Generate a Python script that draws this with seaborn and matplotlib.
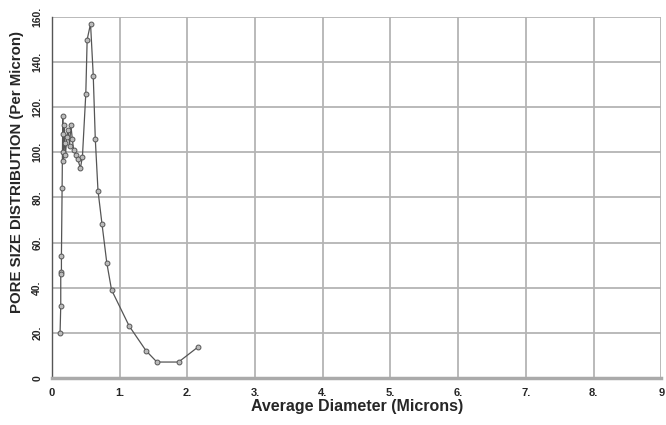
import matplotlib
matplotlib.use("Agg")
import matplotlib.pyplot as plt
import seaborn as sns
import pandas as pd

sns.set_style("whitegrid")
plt.rcParams['font.family'] = ['Liberation Sans', 'DejaVu Sans']

# === data ===
diameter = [0.12, 0.13, 0.13, 0.14, 0.14, 0.15, 0.16, 0.16, 0.17, 0.17,
            0.18, 0.19, 0.20, 0.22, 0.24, 0.26, 0.28, 0.30, 0.32, 0.35,
            0.38, 0.42, 0.45, 0.50, 0.52, 0.57, 0.61, 0.64, 0.68, 0.74,
            0.81, 0.88, 1.14, 1.39, 1.55, 1.87, 2.15]
distribution = [20, 32, 47, 46, 54, 84, 116, 100, 108, 96,
                112, 104, 99, 107, 110, 103, 112, 106, 101, 99,
                97, 93, 98, 126, 150, 157, 134, 106, 83, 68,
                51, 39, 23, 12, 7, 7, 13.5]
x_ticks = [0, 1, 2, 3, 4, 5, 6, 7, 8, 9]
x_labels = ["0", "1.", "2.", "3.", "4.", "5.", "6.", "7.", "8.", "9"]
y_ticks = [0, 20, 40, 60, 80, 100, 120, 140, 160]
y_labels = ["0", "20.", "40.", "60.", "80.", "100.", "120.", "140.", "160."]

df = pd.DataFrame({"diameter": diameter, "dist": distribution})

fig = plt.figure(figsize=(6.66, 4.25), dpi=100)
ax = fig.add_axes([0.078, 0.111, 0.915, 0.849])

# estimator=None keeps repeated diameters as separate points
sns.lineplot(data=df, x="diameter", y="dist", sort=False, estimator=None, ax=ax,
             color="#555555", linewidth=0.9, marker="o", markersize=3.5,
             markerfacecolor="#bbbbbb", markeredgecolor="#555555",
             markeredgewidth=0.7)

ax.set_xlim(0, 9)
ax.set_ylim(0, 160)
ax.set_xticks(x_ticks)
ax.set_xticklabels(x_labels, fontsize=8, fontweight="bold")
ax.set_yticks(y_ticks)
ax.set_yticklabels(y_labels, fontsize=7.5, fontweight="bold", rotation=90, va="center")

ax.grid(True, color="#b4b4b4", linewidth=1.3)
for side in ["top", "right"]:
    ax.spines[side].set_visible(False)
ax.spines["left"].set_color("#555555")
ax.spines["left"].set_linewidth(1.0)
ax.spines["bottom"].set_color("#aaaaaa")
ax.spines["bottom"].set_linewidth(2.5)
ax.tick_params(axis="both", length=4, width=0.8, color="#555555", pad=3)

ax.set_xlabel("Average Diameter (Microns)", fontsize=11.5, fontweight="bold", labelpad=1)
ax.set_ylabel("PORE SIZE DISTRIBUTION (Per Micron)", fontsize=10.8, fontweight="bold")
ax.yaxis.set_label_coords(-0.046, 0.57)

fig.savefig("out.png", dpi=100)
